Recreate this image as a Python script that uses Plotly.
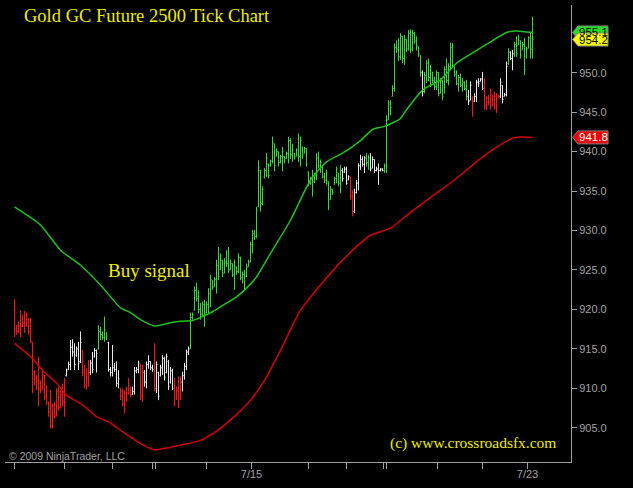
import plotly.graph_objects as go

# ---------------- data ----------------
highs = [
    921.3, 918.0, 918.5, 919.9, 919.3, 919.8, 919.6, 918.9, 918.9, 915.9,
    912.3, 911.7, 914.0, 911.0, 912.3, 911.7, 910.4, 908.3, 909.8, 908.1,
    908.3, 910.0, 910.2, 909.8, 910.6, 911.3, 912.5, 913.4, 916.1, 916.2,
    915.7, 915.3, 915.9, 917.2, 914.9, 913.0, 912.5, 913.6, 913.6, 914.6,
    915.1, 914.9, 918.0, 917.8, 917.2, 919.1, 917.1, 915.9, 912.7, 915.5,
    913.2, 913.4, 912.3, 910.0, 910.0, 909.8, 910.2, 911.3, 910.2, 910.2,
    912.7, 912.7, 913.5, 913.1, 913.0, 912.3, 913.4, 914.2, 913.4, 913.0,
    915.7, 913.4, 912.1, 913.0, 914.2, 914.0, 914.4, 913.6, 912.7, 912.5,
    911.3, 910.2, 911.5, 911.5, 912.1, 913.2, 914.9, 915.3, 919.6, 919.6,
    922.9, 923.4, 922.4, 920.8, 921.0, 921.2, 921.0, 922.7, 924.4, 923.7,
    924.1, 926.3, 927.9, 927.1, 926.3, 926.5, 927.5, 927.9, 926.3, 925.8,
    926.3, 925.4, 927.1, 926.7, 924.8, 925.0, 925.8, 926.3, 928.6, 930.1,
    930.1, 933.0, 938.9, 937.7, 935.6, 937.9, 939.8, 938.5, 939.0, 941.9,
    941.0, 940.4, 940.0, 939.6, 940.6, 939.4, 940.0, 941.9, 941.7, 941.0,
    939.8, 940.4, 942.3, 941.9, 940.6, 940.6, 940.4, 937.5, 936.8, 937.7,
    937.3, 939.8, 940.0, 939.0, 938.1, 937.3, 937.7, 936.2, 935.6, 935.3,
    936.8, 938.1, 937.3, 938.3, 937.9, 938.1, 938.1, 937.0, 936.8, 935.1,
    935.3, 936.4, 938.5, 939.6, 939.4, 939.4, 939.8, 939.6, 939.8, 939.4,
    939.0, 938.1, 938.5, 937.9, 937.9, 938.5, 944.6, 946.5, 946.5, 948.4,
    953.7, 954.1, 954.4, 955.0, 954.6, 954.8, 954.2, 955.4, 955.5, 955.4,
    955.2, 954.6, 953.3, 952.2, 950.3, 950.1, 951.6, 951.8, 951.0, 950.1,
    949.5, 950.3, 950.1, 949.3, 949.1, 950.8, 951.8, 951.2, 953.8, 953.8,
    950.8, 950.3, 949.7, 949.9, 949.3, 948.9, 949.1, 947.8, 948.9, 947.0,
    947.4, 949.1, 949.3, 949.3, 950.1, 949.3, 947.0, 947.2, 948.0, 947.2,
    947.6, 947.4, 947.2, 949.3, 948.4, 947.4, 951.4, 953.1, 952.7, 952.9,
    953.9, 954.6, 954.8, 954.1, 953.9, 954.4, 953.3, 954.6, 955.2, 957.1,
]
lows = [
    916.5, 916.8, 917.0, 916.5, 917.8, 917.0, 917.8, 916.8, 915.7, 909.4,
    910.4, 909.8, 907.7, 909.4, 909.8, 908.5, 907.9, 906.4, 904.9, 904.9,
    906.2, 906.4, 907.2, 907.5, 907.7, 906.4, 911.5, 912.3, 912.3, 914.0,
    912.3, 914.0, 912.3, 913.2, 911.5, 910.0, 909.8, 910.2, 911.7, 911.9,
    913.9, 912.0, 914.9, 916.1, 916.1, 915.9, 916.1, 912.1, 911.5, 911.5,
    912.1, 910.2, 910.0, 908.5, 907.7, 906.8, 908.3, 909.2, 908.9, 909.2,
    909.2, 911.9, 911.9, 908.5, 908.3, 910.2, 910.0, 912.5, 912.3, 912.1,
    909.6, 909.4, 908.5, 911.5, 911.7, 911.0, 911.9, 909.8, 910.6, 909.8,
    907.7, 908.5, 907.5, 908.5, 909.6, 911.1, 912.3, 914.2, 915.0, 918.7,
    919.9, 921.0, 919.5, 918.7, 919.1, 917.8, 919.5, 919.5, 920.3, 922.5,
    922.9, 922.0, 923.7, 925.0, 924.1, 924.6, 925.4, 924.6, 925.0, 924.1,
    922.5, 924.4, 924.6, 923.7, 923.3, 922.5, 924.1, 925.4, 926.0, 927.1,
    928.8, 929.0, 933.0, 932.4, 933.2, 936.6, 936.8, 936.6, 938.1, 938.5,
    937.5, 939.4, 938.1, 938.5, 937.5, 938.5, 939.1, 938.5, 939.1, 938.7,
    939.0, 939.4, 938.7, 938.1, 939.1, 939.8, 938.1, 935.6, 935.8, 934.3,
    936.0, 936.4, 937.9, 937.3, 936.6, 936.0, 935.8, 932.6, 933.9, 934.5,
    935.8, 936.0, 935.6, 934.7, 936.2, 937.3, 935.8, 936.4, 933.9, 931.8,
    932.2, 934.7, 935.1, 937.7, 938.1, 937.3, 938.1, 937.7, 937.5, 937.9,
    937.3, 937.5, 935.8, 937.5, 937.5, 937.3, 937.3, 944.0, 944.6, 947.0,
    947.6, 952.5, 951.5, 951.6, 951.2, 951.0, 952.6, 952.8, 952.5, 952.7,
    953.7, 952.8, 952.0, 949.5, 947.0, 947.4, 948.7, 948.9, 948.2, 948.7,
    947.8, 947.8, 947.0, 947.4, 946.5, 947.4, 948.7, 948.4, 950.3, 950.6,
    949.5, 948.4, 947.6, 948.2, 947.6, 947.8, 946.5, 945.9, 946.5, 944.4,
    946.3, 946.3, 948.2, 948.9, 947.8, 945.3, 945.3, 945.9, 945.3, 945.7,
    945.3, 944.9, 946.8, 946.8, 946.1, 947.0, 947.0, 951.0, 951.6, 950.3,
    952.0, 952.0, 953.5, 951.8, 952.9, 949.7, 951.8, 953.1, 951.8, 951.8,
]
opens = [
    920.0, 917.6, 917.2, 918.0, 917.8, 918.2, 917.9, 918.7, 917.2, 915.8,
    912.0, 911.2, 911.0, 910.0, 909.8, 911.6, 909.0, 908.2, 907.0, 905.2,
    907.8, 906.6, 909.6, 907.6, 909.2, 908.4, 911.6, 912.4, 913.0, 915.2,
    914.6, 914.2, 915.0, 913.4, 914.6, 912.0, 910.4, 911.8, 912.0, 913.2,
    914.0, 914.8, 915.0, 917.2, 916.8, 916.4, 917.0, 915.8, 912.4, 912.0,
    912.6, 912.4, 910.6, 910.0, 909.0, 908.0, 909.4, 909.4, 910.0, 909.2,
    909.6, 912.2, 912.4, 913.0, 909.0, 912.0, 910.8, 913.0, 913.4, 912.6,
    912.4, 910.0, 912.0, 911.6, 912.6, 913.8, 912.0, 913.4, 910.8, 912.2,
    910.0, 908.6, 909.8, 908.6, 910.8, 911.6, 912.8, 914.6, 915.0, 919.0,
    919.9, 922.4, 921.4, 920.0, 919.4, 920.6, 919.6, 920.6, 922.0, 923.6,
    922.9, 923.8, 925.6, 925.0, 926.2, 924.6, 926.0, 925.8, 925.0, 925.8,
    924.4, 925.4, 924.8, 926.6, 924.0, 924.4, 924.2, 925.4, 926.0, 928.2,
    929.6, 929.2, 933.0, 937.6, 933.4, 936.8, 937.6, 938.4, 938.2, 938.8,
    941.0, 939.4, 940.0, 938.6, 939.4, 939.4, 939.1, 939.8, 941.4, 939.6,
    939.8, 939.4, 940.2, 939.4, 940.6, 939.8, 940.4, 937.4, 936.0, 936.6,
    936.2, 937.0, 939.2, 938.2, 938.1, 936.8, 936.4, 936.2, 933.9, 935.2,
    935.8, 936.6, 937.3, 936.0, 937.6, 937.4, 937.8, 936.4, 936.8, 934.4,
    932.4, 934.8, 936.0, 938.2, 939.0, 938.4, 939.2, 938.6, 939.2, 937.9,
    939.0, 937.6, 937.8, 937.6, 937.8, 937.6, 938.2, 944.0, 946.0, 947.0,
    948.0, 953.2, 953.0, 952.0, 954.6, 951.8, 954.2, 953.0, 955.0, 953.0,
    955.0, 954.0, 953.3, 952.2, 950.0, 947.6, 949.6, 951.2, 949.4, 950.1,
    949.0, 948.2, 950.0, 947.4, 949.0, 947.4, 950.4, 949.0, 950.8, 953.2,
    950.8, 949.8, 948.6, 949.4, 948.4, 948.8, 948.0, 947.0, 946.5, 946.8,
    946.4, 947.0, 948.8, 948.9, 949.2, 948.0, 945.8, 946.8, 946.2, 947.2,
    946.0, 947.0, 946.8, 947.0, 948.4, 947.0, 947.2, 951.2, 952.6, 951.8,
    952.4, 953.6, 953.5, 954.1, 952.9, 953.6, 952.0, 953.1, 954.4, 953.0,
]
closes = [
    917.6, 917.2, 918.0, 917.8, 918.2, 917.9, 918.7, 917.2, 916.0, 912.0,
    911.2, 911.0, 910.0, 909.8, 911.6, 909.0, 908.2, 907.0, 905.2, 907.8,
    906.6, 909.6, 907.6, 909.2, 908.4, 911.0, 912.2, 913.0, 915.2, 914.6,
    913.0, 915.0, 913.2, 915.8, 912.0, 910.4, 911.8, 912.0, 913.2, 912.4,
    914.8, 914.4, 917.2, 916.8, 916.4, 917.4, 916.6, 912.4, 912.0, 912.6,
    912.4, 910.6, 911.2, 909.0, 908.0, 909.4, 908.6, 910.6, 909.2, 909.6,
    912.2, 912.4, 913.2, 909.0, 912.0, 910.8, 913.0, 913.4, 912.6, 912.4,
    910.0, 913.0, 909.0, 912.6, 913.8, 911.4, 914.0, 910.2, 912.2, 910.0,
    908.0, 909.8, 908.0, 910.8, 911.6, 912.8, 914.6, 915.0, 919.0, 919.4,
    922.4, 921.4, 920.0, 919.4, 920.6, 918.4, 920.6, 922.0, 923.8, 922.8,
    923.8, 925.6, 924.2, 926.8, 924.6, 926.0, 925.8, 925.0, 925.8, 924.4,
    925.4, 924.8, 926.6, 924.0, 924.4, 923.2, 925.4, 926.0, 928.2, 929.6,
    929.2, 932.6, 938.0, 933.4, 935.2, 937.6, 939.2, 937.0, 938.8, 941.2,
    938.2, 940.0, 938.6, 939.4, 940.0, 938.8, 939.8, 941.4, 939.6, 940.2,
    939.2, 940.2, 939.4, 941.4, 939.6, 940.4, 938.4, 936.0, 936.6, 935.0,
    937.0, 939.2, 938.2, 938.6, 936.8, 936.4, 937.4, 933.0, 935.2, 934.8,
    936.6, 937.8, 936.0, 937.6, 936.6, 937.8, 936.0, 936.8, 934.4, 932.4,
    934.8, 936.0, 938.2, 939.0, 938.4, 939.2, 938.6, 939.2, 937.8, 939.0,
    937.6, 937.8, 937.6, 937.8, 937.6, 938.2, 944.0, 946.2, 945.6, 948.0,
    953.2, 953.0, 952.0, 954.6, 951.8, 954.2, 953.0, 955.0, 953.0, 955.0,
    954.0, 953.4, 952.4, 950.0, 947.6, 949.6, 951.2, 949.4, 950.6, 949.0,
    948.2, 950.0, 947.4, 949.0, 947.0, 950.4, 949.0, 950.8, 953.2, 951.0,
    949.8, 948.6, 949.4, 948.4, 948.8, 948.0, 947.0, 946.4, 948.4, 946.4,
    947.0, 948.8, 948.6, 949.2, 948.0, 945.8, 946.8, 946.2, 947.6, 946.0,
    947.0, 945.4, 947.0, 948.8, 946.6, 947.2, 950.8, 952.6, 951.8, 952.4,
    953.6, 952.4, 954.4, 952.2, 953.6, 950.4, 953.0, 954.4, 953.0, 954.2,
]
# bar colour state runs: R = red, W = white, G = green
state_runs = [
    ("R", 26), ("W", 8), ("R", 4), ("W", 4), ("G", 5), ("W", 6), ("R", 6),
    ("W", 4), ("R", 2), ("W", 5), ("R", 1), ("W", 9), ("R", 4), ("W", 4),
    ("G", 76), ("W", 4), ("R", 2), ("W", 6), ("G", 2), ("W", 7), ("G", 19),
    ("W", 1), ("G", 22), ("W", 2), ("R", 1), ("W", 5), ("R", 8), ("W", 4),
    ("G", 1), ("W", 2), ("G", 10),
]

# moving averages (bar index, value)
green_ma_bar = [0, 13, 23, 33, 43, 53, 58, 63, 70, 78, 83, 89, 94, 99, 106, 111,
                116, 121, 128, 138, 148, 156, 164, 173, 179, 185, 193, 196, 204,
                213, 221, 229, 238, 246, 251, 259]
green_ma_val = [933.0, 930.7, 927.5, 925.6, 923.1, 920.2, 919.6, 918.7, 917.9,
                918.3, 918.5, 918.6, 919.1, 919.7, 920.8, 921.6, 922.7, 924.1,
                927.1, 931.3, 936.4, 938.7, 939.8, 941.4, 942.8, 943.2, 944.2,
                945.3, 947.8, 949.1, 951.2, 952.5, 953.9, 955.1, 955.3, 955.1]
red_ma_bar = [0, 9, 14, 22, 26, 34, 41, 48, 54, 63, 70, 83, 93, 100, 108, 118,
              125, 133, 143, 153, 165, 178, 188, 198, 208, 220, 230, 240, 250, 259]
red_ma_val = [915.7, 913.8, 912.3, 910.4, 909.1, 907.9, 906.4, 905.6, 904.5,
              903.0, 902.2, 902.8, 903.4, 904.4, 906.0, 908.5, 911.0, 914.8,
              919.9, 923.1, 926.5, 929.4, 930.3, 932.3, 934.2, 936.4, 938.5,
              940.4, 941.8, 941.8]

y_ticks = [905, 910, 915, 920, 925, 930, 935, 940, 945, 950]
x_tick_bars = [0, 25, 49, 69, 70.5, 96, 118.5, 147, 166, 184.5, 186, 211.5, 234, 256.5]
x_tick_text = ["", "", "", "", "", "", "7/15", "", "", "", "", "", "", "7/23"]

last_close = closes[-1]
green_last = green_ma_val[-1]
red_last = red_ma_val[-1]

# ---------------- figure ----------------
states = []
for s, n in state_runs:
    states += [s] * n
assert len(states) == len(highs) == len(lows) == len(opens) == len(closes)

COLORS = {"G": "#3fd43f", "W": "#e8e8e8", "R": "#ff1414"}
GRAY = "#a0a0a0"
YELLOW = "#eeee00"
X_RANGE = [-4.75, 278.25]
Y_RANGE = [900.66, 958.58]

fig = go.Figure()

fig.add_trace(go.Scatter(x=red_ma_bar, y=red_ma_val, mode="lines",
                         line=dict(color="#d00000", width=1.5, shape="spline", smoothing=0.6),
                         hoverinfo="skip", showlegend=False))
fig.add_trace(go.Scatter(x=green_ma_bar, y=green_ma_val, mode="lines",
                         line=dict(color="#20c020", width=1.5, shape="spline", smoothing=0.6),
                         hoverinfo="skip", showlegend=False))

for key in ["W", "R", "G"]:
    idx = [i for i, s in enumerate(states) if s == key]
    c = COLORS[key]
    fig.add_trace(go.Ohlc(
        x=idx,
        open=[opens[i] for i in idx], high=[highs[i] for i in idx],
        low=[lows[i] for i in idx], close=[closes[i] for i in idx],
        increasing=dict(line=dict(color=c, width=1)),
        decreasing=dict(line=dict(color=c, width=1)),
        line=dict(width=1), tickwidth=0.5,
        hoverinfo="skip", showlegend=False))


def py(p):
    return (p - Y_RANGE[0]) / (Y_RANGE[1] - Y_RANGE[0])


PLOT_W, PLOT_H = 566, 457
shapes = []
annotations = []
tip_x, notch_x, right_x = 1.0027, 1.0124, 1.0654
hh = 6.5 / PLOT_H
for val, fill, txtcol in [(green_last, "#22dd22", "black"),
                          (last_close, "#ffff00", "black"),
                          (red_last, "#ee0000", "white")]:
    yc = py(val)
    shapes.append(dict(
        type="path", xref="paper", yref="paper",
        path=(f"M {tip_x},{yc} L {notch_x},{yc + hh} L {right_x},{yc + hh} "
              f"L {right_x},{yc - hh} L {notch_x},{yc - hh} Z"),
        fillcolor=fill, line=dict(color="#808080", width=1), layer="above"))
    annotations.append(dict(
        xref="paper", yref="paper", x=(notch_x + right_x) / 2, y=yc,
        text=f"{val:.1f}", showarrow=False, xanchor="center", yanchor="middle",
        font=dict(family="Liberation Sans, Arial", size=11.5, color=txtcol)))

annotations += [
    dict(xref="paper", yref="paper", x=17 / PLOT_W, y=(457 - 11) / PLOT_H,
         text="Gold GC Future 2500 Tick Chart", showarrow=False,
         xanchor="left", yanchor="middle",
         font=dict(family="Liberation Serif, Times New Roman", size=18.5, color=YELLOW)),
    dict(xref="x", yref="y", x=67.3, y=924.9, text="Buy signal", showarrow=False,
         xanchor="center", yanchor="middle",
         font=dict(family="Liberation Serif, Times New Roman", size=19, color=YELLOW)),
    dict(xref="paper", yref="paper", x=383 / PLOT_W, y=19 / PLOT_H,
         text="(c) www.crossroadsfx.com", showarrow=False,
         xanchor="left", yanchor="middle",
         font=dict(family="Liberation Serif, Times New Roman", size=15.5, color=YELLOW)),
    dict(xref="paper", yref="paper", x=2 / PLOT_W, y=6 / PLOT_H,
         text="© 2009 NinjaTrader, LLC", showarrow=False,
         xanchor="left", yanchor="middle",
         font=dict(family="Liberation Sans, Arial", size=10.5, color=GRAY)),
]

fig.update_layout(
    width=633, height=488,
    margin=dict(l=5, r=62, t=5, b=26, pad=0),
    paper_bgcolor="black", plot_bgcolor="black",
    showlegend=False,
    shapes=shapes, annotations=annotations,
    xaxis=dict(range=X_RANGE, showgrid=False, zeroline=False,
               showline=True, linecolor=GRAY, linewidth=1,
               ticks="outside", ticklen=6, tickwidth=1, tickcolor=GRAY,
               tickmode="array", tickvals=x_tick_bars, ticktext=x_tick_text,
               ticklabelstandoff=-4,
               tickfont=dict(family="Liberation Sans, Arial", size=11, color=GRAY),
               rangeslider=dict(visible=False), fixedrange=True),
    yaxis=dict(range=Y_RANGE, side="right", showgrid=False, zeroline=False,
               showline=True, linecolor=GRAY, linewidth=1,
               ticks="outside", ticklen=5, tickwidth=1, tickcolor=GRAY,
               tickmode="array", tickvals=y_ticks, tickformat=".1f",
               tickfont=dict(family="Liberation Sans, Arial", size=11, color=GRAY),
               fixedrange=True),
)

fig.write_html(
    "out.html",
    config={"displayModeBar": False, "staticPlot": True},
    post_script="document.body.style.margin='0';document.body.style.background='black';",
)
